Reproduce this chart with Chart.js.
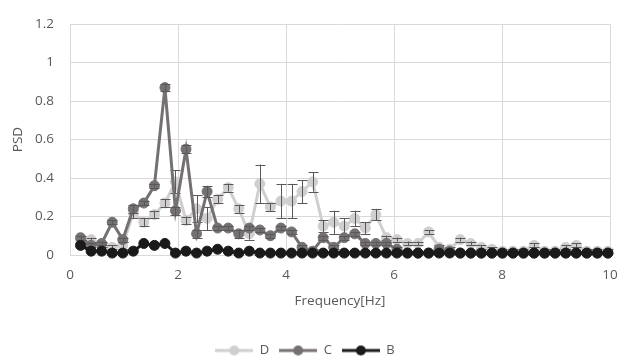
<!DOCTYPE html>
<html lang="en">
<head>
    <meta charset="UTF-8">
    <title>PSD</title>
    <script src="https://cdn.jsdelivr.net/npm/chart.js@4.4.1/dist/chart.umd.min.js"></script>
    <style>
        html, body { margin: 0; padding: 0; background: #ffffff; }
        #wrap { width: 619px; height: 358px; position: relative; }
    </style>
</head>
<body>
    <div id="wrap"><canvas id="chart"></canvas></div>

    <script>
        // frequency bins [Hz]
        const freqs = [0.195, 0.391, 0.586, 0.781, 0.977, 1.172, 1.367, 1.563, 1.758, 1.953,
            2.148, 2.344, 2.539, 2.734, 2.930, 3.125, 3.320, 3.516, 3.711, 3.906,
            4.102, 4.297, 4.492, 4.688, 4.883, 5.078, 5.273, 5.469, 5.664, 5.859,
            6.055, 6.250, 6.445, 6.641, 6.836, 7.031, 7.227, 7.422, 7.617, 7.813,
            8.008, 8.203, 8.398, 8.594, 8.789, 8.984, 9.180, 9.375, 9.570, 9.766, 9.961];

        const psdD = [0.07, 0.08, 0.05, 0.04, 0.05, 0.22, 0.17, 0.21, 0.27, 0.38,
            0.18, 0.24, 0.19, 0.29, 0.35, 0.24, 0.11, 0.37, 0.25, 0.28,
            0.28, 0.33, 0.38, 0.15, 0.17, 0.15, 0.19, 0.14, 0.21, 0.09,
            0.08, 0.06, 0.06, 0.12, 0.04, 0.03, 0.08, 0.06, 0.04, 0.03,
            0.02, 0.02, 0.02, 0.05, 0.02, 0.02, 0.04, 0.05, 0.02, 0.02, 0.02];
        const errD = [0.01, 0.01, 0.01, 0.01, 0.02, 0.03, 0.02, 0.02, 0.02, 0.06,
            0.02, 0.07, 0.06, 0.02, 0.02, 0.02, 0.03, 0.10, 0.02, 0.09,
            0.09, 0.06, 0.05, 0.03, 0.06, 0.04, 0.04, 0.03, 0.03, 0.01,
            0.01, 0.01, 0.01, 0.01, 0.01, 0.01, 0.01, 0.01, 0.01, 0.01,
            0.01, 0.01, 0.01, 0.01, 0.01, 0.01, 0.01, 0.01, 0.01, 0.01, 0.01];

        const psdC = [0.09, 0.05, 0.06, 0.17, 0.08, 0.24, 0.27, 0.36, 0.87, 0.23,
            0.55, 0.11, 0.33, 0.14, 0.14, 0.11, 0.14, 0.13, 0.10, 0.14,
            0.12, 0.04, 0.02, 0.09, 0.04, 0.09, 0.11, 0.06, 0.06, 0.06,
            0.03, 0.01, 0.01, 0.01, 0.03, 0.02, 0.01, 0.01, 0.01, 0.01,
            0.01, 0.01, 0.01, 0.01, 0.01, 0.01, 0.01, 0.01, 0.01, 0.01, 0.01];
        const errC = [0.01, 0.01, 0.01, 0.01, 0.01, 0.02, 0.01, 0.01, 0.02, 0.02,
            0.02, 0.02, 0.03, 0.01, 0.01, 0.02, 0.01, 0.01, 0.01, 0.01,
            0.01, 0.01, 0.01, 0.01, 0.01, 0.01, 0.01, 0.01, 0.01, 0.01,
            0.01, 0, 0, 0, 0, 0, 0, 0, 0, 0,
            0, 0, 0, 0, 0, 0, 0, 0, 0, 0, 0];

        const psdB = [0.05, 0.02, 0.02, 0.01, 0.01, 0.02, 0.06, 0.05, 0.06, 0.01,
            0.02, 0.01, 0.02, 0.03, 0.02, 0.01, 0.02, 0.01, 0.01, 0.01,
            0.01, 0.01, 0.01, 0.01, 0.01, 0.01, 0.01, 0.01, 0.01, 0.01,
            0.01, 0.01, 0.01, 0.01, 0.01, 0.01, 0.01, 0.01, 0.01, 0.01,
            0.01, 0.01, 0.01, 0.01, 0.01, 0.01, 0.01, 0.01, 0.01, 0.01, 0.01];

        const colD = '#d0cece';
        const colC = '#767171';
        const colB = '#1a1a1a';
        const textCol = '#595959';
        const gridCol = '#d9d9d9';
        const fontFam = "'Open Sans', sans-serif";

        function pts(vals) {
            return freqs.map((f, i) => ({ x: f, y: vals[i] }));
        }

        function series(label, vals, color, errs) {
            return {
                label: label,
                data: pts(vals),
                errors: errs,
                borderColor: color,
                backgroundColor: color,
                pointBackgroundColor: color,
                pointBorderColor: color,
                borderWidth: 3,
                pointRadius: 5,
                pointBorderWidth: 1,
                tension: 0,
                clip: false
            };
        }

        // legend swatch: short line with marker in the middle
        function legendIcon(color) {
            const c = document.createElement('canvas');
            c.width = 38; c.height = 12;
            const g = c.getContext('2d');
            g.strokeStyle = color;
            g.lineWidth = 3;
            g.beginPath(); g.moveTo(0, 6); g.lineTo(38, 6); g.stroke();
            g.fillStyle = color;
            g.beginPath(); g.arc(19, 6, 5, 0, Math.PI * 2); g.fill();
            return c;
        }

        const errorBars = {
            id: 'errorBars',
            afterDatasetDraw(chart, args) {
                const ds = chart.data.datasets[args.index];
                if (!ds.errors) return;
                const xs = chart.scales.x, ys = chart.scales.y;
                const ctx = chart.ctx;
                ctx.save();
                ctx.strokeStyle = '#595959';
                ctx.lineWidth = 1;
                ds.data.forEach((p, i) => {
                    const e = ds.errors[i];
                    if (!e) return;
                    const x = Math.round(xs.getPixelForValue(p.x)) + 0.5;
                    const y1 = ys.getPixelForValue(p.y + e);
                    const y2 = ys.getPixelForValue(Math.max(0, p.y - e));
                    ctx.beginPath();
                    ctx.moveTo(x, y1); ctx.lineTo(x, y2);
                    ctx.moveTo(x - 5, Math.round(y1) + 0.5); ctx.lineTo(x + 5, Math.round(y1) + 0.5);
                    ctx.moveTo(x - 5, Math.round(y2) + 0.5); ctx.lineTo(x + 5, Math.round(y2) + 0.5);
                    ctx.stroke();
                });
                ctx.restore();
            }
        };

        const icons = [legendIcon(colB), legendIcon(colC), legendIcon(colD)];

        const ctx = document.getElementById('chart').getContext('2d');
        const chart = new Chart(ctx, {
            type: 'line',
            data: {
                datasets: [
                    series('B', psdB, colB, null),
                    series('C', psdC, colC, errC),
                    series('D', psdD, colD, errD)
                ]
            },
            plugins: [errorBars],
            options: {
                responsive: true,
                maintainAspectRatio: false,
                animation: false,
                layout: { padding: { left: 0, right: 9, top: 20, bottom: 0 } },
                scales: {
                    x: {
                        type: 'linear',
                        min: 0,
                        max: 10,
                        ticks: { stepSize: 2, color: textCol, padding: 12, font: { family: fontFam, size: 13.5 } },
                        grid: { color: gridCol, drawTicks: false },
                        border: { color: gridCol },
                        title: {
                            display: true,
                            text: 'Frequency[Hz]',
                            color: textCol,
                            font: { family: fontFam, size: 13.5 },
                            padding: { top: 0, bottom: 25 }
                        },
                        afterFit(scale) {
                            scale.height = 79;
                            scale.paddingLeft = 0;
                            scale.paddingRight = 0;
                        }
                    },
                    y: {
                        min: 0,
                        max: 1.2,
                        ticks: {
                            stepSize: 0.2,
                            color: textCol,
                            padding: 16,
                            font: { family: fontFam, size: 13.5 },
                            callback: v => String(Number(v.toFixed(1)))
                        },
                        grid: { color: gridCol, drawTicks: false },
                        border: { color: gridCol },
                        title: {
                            display: true,
                            text: 'PSD',
                            color: textCol,
                            font: { family: fontFam, size: 13.5 },
                            padding: { top: 10, bottom: 0 }
                        },
                        afterFit(scale) { scale.width = 70; }
                    }
                },
                plugins: {
                    tooltip: { enabled: false },
                    legend: {
                        position: 'bottom',
                        maxHeight: 24,
                        labels: {
                            color: textCol,
                            font: { family: fontFam, size: 13 },
                            usePointStyle: true,
                            pointStyleWidth: 38,
                            padding: 10,
                            generateLabels(chart) {
                                const items = Chart.defaults.plugins.legend.labels.generateLabels(chart);
                                items.forEach(it => { it.pointStyle = icons[it.datasetIndex]; });
                                return items;
                            },
                            sort: (a, b) => b.datasetIndex - a.datasetIndex
                        }
                    }
                }
            }
        });
    </script>
</body>
</html>
